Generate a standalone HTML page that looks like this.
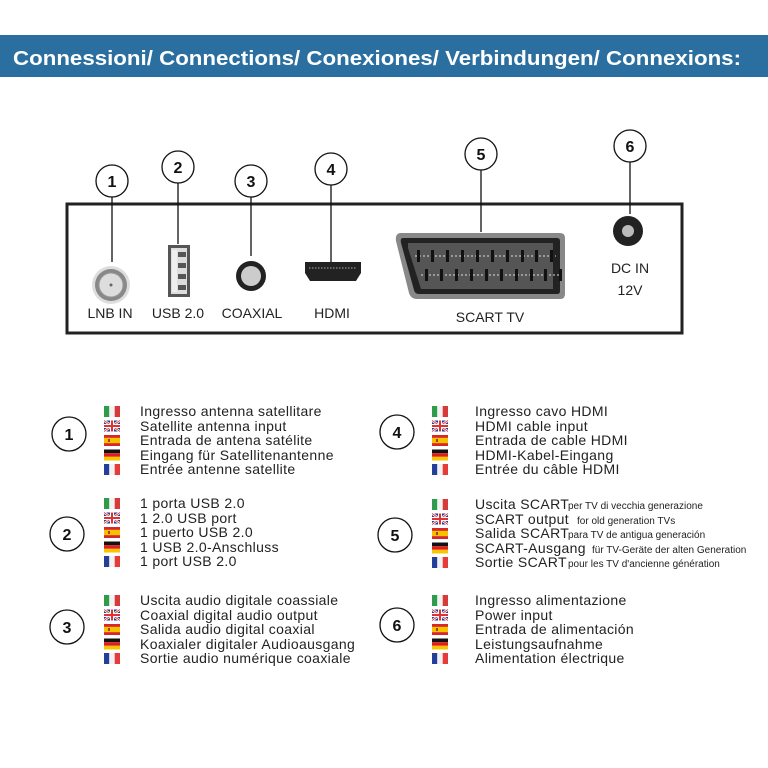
<!DOCTYPE html>
<html><head><meta charset="utf-8"><style>
html,body{margin:0;padding:0;background:#fff}
svg{display:block}
text{font-family:"Liberation Sans",sans-serif}
.t{font-size:14px;fill:#222;letter-spacing:0.35px}
.s{font-size:10px;fill:#222}
.lbl{font-size:14px;fill:#222;text-anchor:middle}
.n{font-size:16px;font-weight:bold;text-anchor:middle;fill:#111}
</style></head><body>
<svg width="768" height="768" viewBox="0 0 768 768" xmlns="http://www.w3.org/2000/svg">
<defs>
<g id="it"><rect x="0" y="0" width="5.3" height="11" fill="#2e9c4a"/><rect x="5.3" width="5.4" height="11" fill="#f2f2f2"/><rect x="10.7" width="5.3" height="11" fill="#d63a3a"/></g>
<g id="uk"><rect width="16" height="11" fill="#2a3f8f"/><path d="M0 0L16 11M16 0L0 11" stroke="#fff" stroke-width="2.5"/><path d="M0 0L16 11M16 0L0 11" stroke="#d33" stroke-width="0.8"/><rect x="6" width="4" height="11" fill="#fff"/><rect y="3.5" width="16" height="4" fill="#fff"/><rect x="7" width="2" height="11" fill="#d33"/><rect y="4.5" width="16" height="2" fill="#d33"/></g>
<g id="es"><rect width="16" height="11" fill="#d8262b"/><rect y="2.8" width="16" height="5.4" fill="#f4c300"/><rect x="4" y="4" width="2" height="3" fill="#b33"/></g>
<g id="de"><rect width="16" height="3.7" fill="#111"/><rect y="3.7" width="16" height="3.6" fill="#dd1f1f"/><rect y="7.3" width="16" height="3.7" fill="#f7c600"/></g>
<g id="fr"><rect width="5.3" height="11" fill="#233f9a"/><rect x="5.3" width="5.4" height="11" fill="#f2f2f2"/><rect x="10.7" width="5.3" height="11" fill="#e53b3b"/></g>
<g id="flags"><use href="#it" y="0"/><use href="#uk" y="14.5"/><use href="#es" y="29"/><use href="#de" y="43.5"/><use href="#fr" y="58"/></g>
</defs>

<rect x="0" y="35" width="768" height="42" fill="#2a6fa0"/>
<text x="13" y="65" font-size="20" font-weight="bold" fill="#fff" textLength="728" lengthAdjust="spacingAndGlyphs">Connessioni/ Connections/ Conexiones/ Verbindungen/ Connexions:</text>

<!-- device -->
<rect x="67" y="204" width="615" height="129" fill="none" stroke="#222" stroke-width="3"/>
<g stroke="#111" stroke-width="1.3" fill="#fff">
<line x1="112" y1="197" x2="112" y2="262"/>
<line x1="178" y1="183" x2="178" y2="244"/>
<line x1="251" y1="197" x2="251" y2="256"/>
<line x1="331" y1="185" x2="331" y2="262"/>
<line x1="481" y1="170" x2="481" y2="232"/>
<line x1="630" y1="162" x2="630" y2="214"/>
<circle cx="112" cy="181" r="16"/><circle cx="178" cy="167" r="16"/><circle cx="251" cy="181" r="16"/>
<circle cx="331" cy="169" r="16"/><circle cx="481" cy="154" r="16"/><circle cx="630" cy="146" r="16"/>
</g>
<text class="n" x="112" y="187">1</text><text class="n" x="178" y="173">2</text><text class="n" x="251" y="187">3</text>
<text class="n" x="331" y="175">4</text><text class="n" x="481" y="160">5</text><text class="n" x="630" y="152">6</text>

<!-- LNB -->
<circle cx="111" cy="285" r="19" fill="#ddd"/><circle cx="111" cy="285" r="16" fill="#888"/><circle cx="111" cy="285" r="12" fill="#ddd" stroke="#999"/><circle cx="111" cy="285" r="1.5" fill="#666"/>
<!-- USB -->
<rect x="168" y="245" width="22" height="52" fill="#555"/><rect x="171" y="248" width="16" height="46" fill="#ddd"/>
<rect x="172" y="250" width="5" height="42" fill="#eee"/>
<g fill="#555"><rect x="178" y="252" width="8" height="5"/><rect x="178" y="263" width="8" height="5"/><rect x="178" y="274" width="8" height="5"/><rect x="178" y="285" width="8" height="5"/></g>
<!-- coax -->
<circle cx="251" cy="276" r="15" fill="#222"/><circle cx="251" cy="276" r="10" fill="#ccc"/>
<!-- HDMI -->
<path d="M305 262H361V273L356 281H310L305 273Z" fill="#222"/><line x1="309" y1="268" x2="357" y2="268" stroke="#aaa" stroke-dasharray="1.5,1.5"/>
<!-- SCART -->
<path d="M398 233H560Q565 233 565 238V294Q565 299 560 299H417Q411 299 409 293L396 241Q395 233 401 233Z" fill="#888"/>
<path d="M403 238H557Q560 238 560 241V291Q560 294 557 294H419Q415 294 414 290L401 243Q400 238 403 238Z" fill="#222"/>
<path d="M408 243H553V289H421L408 248Z" fill="#555"/>
<g stroke="#ddd" stroke-width="1" stroke-dasharray="2,2"><line x1="415" y1="256" x2="556" y2="256"/><line x1="421" y1="275" x2="560" y2="275"/></g>
<g fill="#111">
<rect x="417" y="250" width="3" height="12"/><rect x="431" y="250" width="3" height="12"/><rect x="446" y="250" width="3" height="12"/><rect x="461" y="250" width="3" height="12"/><rect x="476" y="250" width="3" height="12"/><rect x="491" y="250" width="3" height="12"/><rect x="506" y="250" width="3" height="12"/><rect x="521" y="250" width="3" height="12"/><rect x="535" y="250" width="3" height="12"/><rect x="550" y="250" width="3" height="12"/>
<rect x="425" y="269" width="3" height="12"/><rect x="440" y="269" width="3" height="12"/><rect x="455" y="269" width="3" height="12"/><rect x="470" y="269" width="3" height="12"/><rect x="485" y="269" width="3" height="12"/><rect x="500" y="269" width="3" height="12"/><rect x="515" y="269" width="3" height="12"/><rect x="530" y="269" width="3" height="12"/><rect x="544" y="269" width="3" height="12"/><rect x="559" y="269" width="3" height="12" fill="#111"/>
</g>
<!-- DC -->
<circle cx="628" cy="231" r="15" fill="#222"/><circle cx="628" cy="231" r="6" fill="#bbb"/>

<text class="lbl" x="110" y="318">LNB IN</text><text class="lbl" x="178" y="318">USB 2.0</text>
<text class="lbl" x="252" y="318">COAXIAL</text><text class="lbl" x="332" y="318">HDMI</text>
<text class="lbl" x="490" y="322">SCART TV</text><text class="lbl" x="630" y="273">DC IN</text><text class="lbl" x="630" y="295">12V</text>

<!-- legend circles -->
<g fill="#fff" stroke="#111" stroke-width="1.3">
<circle cx="69" cy="434" r="17"/><circle cx="67" cy="534" r="17"/><circle cx="67" cy="627" r="17"/>
<circle cx="397" cy="432" r="17"/><circle cx="395" cy="535" r="17"/><circle cx="397" cy="625" r="17"/>
</g>
<text class="n" x="69" y="440">1</text><text class="n" x="67" y="540">2</text><text class="n" x="67" y="633">3</text>
<text class="n" x="397" y="438">4</text><text class="n" x="395" y="541">5</text><text class="n" x="397" y="631">6</text>

<use href="#flags" x="104" y="406"/><use href="#flags" x="104" y="498"/><use href="#flags" x="104" y="595"/>
<use href="#flags" x="432" y="406"/><use href="#flags" x="432" y="499"/><use href="#flags" x="432" y="595"/>

<g class="t">
<text x="140" y="416">Ingresso antenna satellitare</text>
<text x="140" y="431">Satellite antenna input</text>
<text x="140" y="445">Entrada de antena satélite</text>
<text x="140" y="460">Eingang für Satellitenantenne</text>
<text x="140" y="474">Entrée antenne satellite</text>

<text x="140" y="508">1 porta USB 2.0</text>
<text x="140" y="523">1 2.0 USB port</text>
<text x="140" y="537">1 puerto USB 2.0</text>
<text x="140" y="552">1 USB 2.0-Anschluss</text>
<text x="140" y="566">1 port USB 2.0</text>

<text x="140" y="605">Uscita audio digitale coassiale</text>
<text x="140" y="620">Coaxial digital audio output</text>
<text x="140" y="634">Salida audio digital coaxial</text>
<text x="140" y="649">Koaxialer digitaler Audioausgang</text>
<text x="140" y="663">Sortie audio numérique coaxiale</text>

<text x="475" y="416">Ingresso cavo HDMI</text>
<text x="475" y="431">HDMI cable input</text>
<text x="475" y="445">Entrada de cable HDMI</text>
<text x="475" y="460">HDMI-Kabel-Eingang</text>
<text x="475" y="474">Entrée du câble HDMI</text>

<text x="475" y="509">Uscita SCART</text>
<text x="475" y="524">SCART output</text>
<text x="475" y="538">Salida SCART</text>
<text x="475" y="553">SCART-Ausgang</text>
<text x="475" y="567">Sortie SCART</text>

<text x="475" y="605">Ingresso alimentazione</text>
<text x="475" y="620">Power input</text>
<text x="475" y="634">Entrada de alimentación</text>
<text x="475" y="649">Leistungsaufnahme</text>
<text x="475" y="663">Alimentation électrique</text>
</g>
<g class="s">
<text x="568" y="509">per TV di vecchia generazione</text>
<text x="577" y="524">for old generation TVs</text>
<text x="568" y="538">para TV de antigua generación</text>
<text x="592" y="553">für TV-Geräte der alten Generation</text>
<text x="568" y="567">pour les TV d'ancienne génération</text>
</g>
</svg>
</body></html>
